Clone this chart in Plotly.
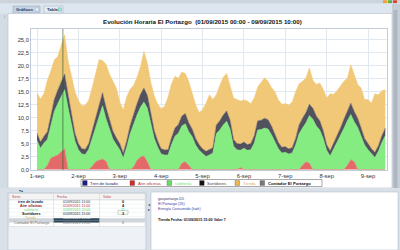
import plotly.graph_objects as go
import pandas as pd

W, H = 400, 250

# ---------------- data (2-hour steps) ----------------
times = pd.date_range("2015-09-01 00:00", "2015-09-09 10:00", freq="2h")

aire_oficinas = [0, 0, 0, 0.8, 2.2, 2.5, 2.8, 3.4, 4.0, 0,
                 0, 0, 0, 0, 0, 0, 0.6, 1.5, 1.8, 2.0,
                 1.6, 0, 0, 0, 0, 0, 0, 0, 0.5, 1.8,
                 2.4, 2.6, 1.5, 0, 0, 0, 0, 0, 0, 0,
                 0, 0, 1.2, 1.5, 0.8, 0, 0, 0, 0, 0,
                 0, 0, 0, 0, 0, 0, 0, 0, 0, 0.4,
                 0, 0, 0, 0, 0, 0, 0, 0, 0, 0,
                 0, 0, 0, 0, 0, 0, 0, 0.8, 1.5, 1.2,
                 0, 0, 0, 0, 0, 0, 0, 0, 0, 0,
                 0.8, 1.9, 1.5, 0, 0, 0, 0, 0, 0, 0,
                 0, 0]

cafeteria = [5.6, 4.1, 5.1, 5.0, 6.3, 8.7, 9.9, 10.8, 11.4, 11.9,
             8.5, 5.5, 3.8, 3.0, 2.9, 3.9, 5.4, 6.6, 8.0, 10.3,
             8.2, 7.7, 5.9, 4.8, 3.8, 2.2, 4.3, 6.9, 8.3, 8.7,
             9.6, 10.4, 10.3, 9.0, 6.0, 4.3, 3.0, 2.8, 2.8, 4.8,
             6.4, 7.0, 7.2, 7.3, 6.5, 6.3, 4.7, 3.7, 3.0, 2.5,
             2.8, 3.2, 6.9, 7.6, 8.6, 9.3, 7.7, 4.5, 3.8, 3.3,
             4.1, 3.7, 3.8, 5.1, 7.6, 7.7, 8.0, 7.8, 6.7, 5.3,
             4.0, 3.2, 3.3, 3.0, 3.2, 4.7, 6.9, 7.2, 7.5, 9.2,
             9.7, 8.4, 7.6, 6.0, 3.7, 2.6, 3.9, 5.1, 6.4, 7.9,
             8.6, 8.7, 7.7, 8.1, 6.4, 4.7, 3.8, 3.0, 2.3, 3.5,
             5.2, 6.5]

surtidores = [1.4, 1.2, 1.3, 1.5, 1.8, 2.3, 2.6, 2.8, 3.0, 2.6,
              2.0, 1.5, 1.2, 1.0, 1.0, 1.1, 1.5, 1.9, 2.2, 2.5,
              2.2, 1.8, 1.5, 1.3, 1.2, 1.0, 1.2, 1.6, 1.9, 2.2,
              2.5, 2.7, 2.5, 2.0, 1.5, 1.2, 1.0, 1.0, 1.0, 1.3,
              1.6, 1.7, 1.9, 2.0, 1.7, 1.5, 1.3, 1.1, 1.0, 1.0,
              1.0, 1.0, 1.7, 1.8, 1.9, 2.0, 1.8, 1.3, 1.2, 1.2,
              1.2, 1.1, 1.2, 1.4, 1.8, 1.8, 1.9, 1.8, 1.7, 1.4,
              1.2, 1.1, 1.1, 1.0, 1.0, 1.3, 1.7, 1.9, 2.0, 2.2,
              2.1, 1.9, 1.8, 1.5, 1.1, 1.0, 1.1, 1.3, 1.6, 1.8,
              2.0, 2.2, 2.0, 1.8, 1.6, 1.3, 1.2, 1.0, 1.0, 1.1,
              1.3, 1.5]

tienda = [7.8, 8.3, 8.2, 9.9, 8.7, 7.6, 6.5, 6.8, 7.6, 6.5,
          7.3, 8.0, 8.3, 8.3, 8.5, 8.4, 8.3, 8.6, 9.2, 6.2,
          8.3, 8.9, 9.6, 9.6, 8.0, 8.3, 8.5, 7.0, 5.5, 5.1,
          5.3, 7.1, 6.2, 5.8, 6.7, 7.1, 7.7, 8.4, 10.2, 10.4,
          10.0, 8.9, 8.5, 7.7, 8.0, 7.0, 6.5, 6.2, 7.5, 9.3,
          10.6, 9.3, 5.8, 6.8, 7.3, 7.2, 6.5, 8.0, 8.5, 8.3,
          8.1, 8.4, 7.7, 7.3, 6.5, 7.2, 7.8, 7.4, 7.4, 8.3,
          8.2, 8.3, 8.3, 8.4, 8.8, 9.0, 7.9, 7.1, 6.7, 7.0,
          5.4, 6.1, 7.3, 8.0, 9.0, 11.0, 9.5, 8.8, 8.2, 7.3,
          6.2, 7.4, 7.1, 6.5, 7.7, 7.5, 8.5, 8.8, 11.3, 9.8,
          8.7, 7.4]

day_ticks = ["2015-09-01", "2015-09-02", "2015-09-03", "2015-09-04", "2015-09-05",
             "2015-09-06", "2015-09-07", "2015-09-08", "2015-09-09"]
day_labels = ["1-sep", "2-sep", "3-sep", "4-sep", "5-sep", "6-sep", "7-sep", "8-sep", "9-sep"]
y_ticks = [0, 2.5, 5, 7.5, 10, 12.5, 15, 17.5, 20, 22.5, 25]
y_labels = ["0,0", "2,5", "5,0", "7,5", "10,0", "12,5", "15,0", "17,5", "20,0", "22,5", "25,0"]

legend_names = ["Tren de lavado", "Aire oficinas", "cafetería", "Surtidores", "Tienda", "Contador El Portazgo"]

table_series = ["tren de lavado", "Aire oficinas", "cafetería", "Surtidores", "Tienda", "Contador El Portazgo"]
table_dates = ["01/09/2015 15:00", "01/09/2015 15:00", "01/09/2015 15:00",
               "01/09/2015 15:00", "01/09/2015 15:00", "01/09/2015 15:00"]
table_values = ["0", "4", "11", "3", "", "0"]

cursor_time = "2015-09-01 15:00"
title_text = "Evolución Horaria El Portazgo\u00a0\u00a0(01/09/2015 00:00 - 09/09/2015 10:00)"
info_lines = ["gasportazgo D5", "El Portazgo (26)", "Energía Consumida (kwh)"]
info_value = "Tienda Fecha: 01/09/2015 15:00 Valor 7"

# ---------------- styles ----------------
FONT = "Liberation Sans"
series = [("Aire oficinas", aire_oficinas, "#e46a6a"),
          ("cafetería", cafeteria, "#84ec80"),
          ("Surtidores", surtidores, "#52525e"),
          ("Tienda", tienda, "#f0c878")]
legend_swatch = ["#1c1c8a", "#d62a2a", "#5fe35f", "#111111", "#f2b84a", "#7a7a7a"]
legend_textcol = ["#1c1c6e", "#b03030", "#66dd66", "#444444", "#e0b060", "#111111"]

fig = go.Figure()
for name, vals, col in series:
    fig.add_trace(go.Scatter(x=times, y=vals, name=name, stackgroup="one", mode="lines",
                             line=dict(width=0.5, color=col), fillcolor=col,
                             hoverinfo="skip", showlegend=False))


def X(px):
    return px / W


def Y(py):
    return 1 - py / H


shapes = []
annots = []


def rect(x0, y0, x1, y1, fill, line=None, lw=0.6, layer="below"):
    shapes.append(dict(type="rect", xref="paper", yref="paper", x0=X(x0), x1=X(x1),
                       y0=Y(y1), y1=Y(y0), fillcolor=fill, layer=layer,
                       line=dict(width=lw if line else 0, color=line or fill)))


def hline(x0, x1, y, col, lw=0.5):
    shapes.append(dict(type="line", xref="paper", yref="paper", x0=X(x0), x1=X(x1),
                       y0=Y(y), y1=Y(y), line=dict(width=lw, color=col), layer="below"))


def vline(x, y0, y1, col, lw=0.5):
    shapes.append(dict(type="line", xref="paper", yref="paper", x0=X(x), x1=X(x),
                       y0=Y(y0), y1=Y(y1), line=dict(width=lw, color=col), layer="below"))


def txt(px, py, text, size, color, anchor="left", bold=False, bg=None):
    annots.append(dict(x=X(px), y=Y(py), xref="paper", yref="paper", showarrow=False,
                       text=f"<b>{text}</b>" if bold else text, xanchor=anchor, yanchor="middle",
                       font=dict(family=FONT, size=size, color=color), borderpad=0,
                       bgcolor=bg))


# window chrome
rect(0, 0, 400, 3.5, "#cdd3da")
rect(383, 0.3, 387, 3.2, "#f0a030")
rect(388, 0.3, 392, 3.2, "#5fb040")
rect(393, 0.3, 397, 3.2, "#e04030")
rect(0, 3.5, 400, 13.5, "#dde5ee")
rect(13, 6, 40, 13, "#c5d3e2", "#8ea4bc", 0.5)
txt(15, 9.6, "Gráficos", 4.2, "#1e3050", bold=True)
rect(35.5, 7.8, 38.5, 11.2, "#e8eef4", "#9aa8b8", 0.3)
rect(44, 6, 63, 13, "#e6ecf3", "#9fb0c2", 0.5)
txt(46, 9.6, "Tabla", 4.2, "#1e3050", bold=True)
rect(58, 7.8, 61.5, 11.2, "#9fe0d8", "#3a9a90", 0.3)
rect(0, 13.5, 8, 190, "#d3dbe4")
txt(4, 16, "⁞", 4, "#445", anchor="center")
# chart panel
rect(8, 13.5, 392, 188, "white", "#b4c0cc", 0.6)
rect(392, 4, 400, 190, "#c6ced7")
rect(393.5, 10, 397.5, 188, "#aeb7c1")
# divider
rect(0, 188, 400, 193, "#d9e0e8")
txt(21, 190.6, "▾▴", 3.5, "#445566", anchor="center")
# table panel
rect(8, 193, 146, 250, "#eef1f5", "#a8b4c0", 0.5)
rect(9, 193.5, 145, 200, "#f4f4f4", "#c0c8d0", 0.4)
rect(9, 200, 145, 226.5, "white", "#c0c8d0", 0.4)
rect(9, 218.3, 145, 222.4, "#cfd5db")
rect(53.5, 218.3, 99.5, 222.4, "#2c4658")
for i in range(1, 6):
    hline(9, 145, 200 + 4.08 * i, "#d4d9df", 0.3)
vline(53.5, 193.5, 226.5, "#c0c8d0", 0.4)
vline(99.5, 193.5, 226.5, "#c0c8d0", 0.4)
rect(118, 210.4, 128, 214.3, "rgba(0,0,0,0)", "#70a070", 0.4)
txt(11, 196.8, "Serie", 3.6, "#c04848")
txt(56, 196.8, "Fecha", 3.6, "#c04848")
txt(102, 196.8, "Valor", 3.6, "#c04848")
row_name_col = ["#1a1a5e", "#8b1a1a", "#5fd35f", "#111111", "#e0b050", "#707070"]
row_date_col = ["#333333", "#c03030", "#60d060", "#111111", "#ffffff", "#808080"]
row_bold = [True, True, False, True, False, False]
for i, (s, d, v) in enumerate(zip(table_series, table_dates, table_values)):
    yc = 202.1 + 4.08 * i
    txt(31, yc, s, 3.7, row_name_col[i], anchor="center", bold=row_bold[i])
    txt(76.5, yc, d, 3.5, row_date_col[i], anchor="center")
    txt(123, yc, v, 3.7, row_name_col[i] if i in (2, 5) else "#111111", anchor="center",
        bold=row_bold[i])
txt(148.5, 204.5, "◂", 3.5, "#334466", anchor="center")
txt(148.5, 209.5, "▸", 3.5, "#334466", anchor="center")
# info panel
rect(151, 192, 398, 250, "white", "#a8b4c0", 0.5)
for i, line in enumerate(info_lines):
    txt(157, 198.5 + 5.4 * i, line, 3.7, "#333366" if i == 0 else "#3a3aa0")
txt(157, 220, info_value, 3.7, "#111111", bold=True)

# title
txt(203, 22, title_text, 6.2, "#111111", anchor="center", bold=True)

# custom legend
rect(81, 179.5, 322, 186.5, "white", "#555555", 0.5)
sw_x = [82.6, 130, 167, 199.6, 235, 260]
tx_x = [89, 136.5, 173.5, 205.5, 241.5, 266.5]
for i, nm in enumerate(legend_names):
    rect(sw_x[i], 180.6, sw_x[i] + 4.6, 185.4, legend_swatch[i], "#333333", 0.3)
    txt(tx_x[i], 183, nm, 4.2, legend_textcol[i], bold=(i == 5))

# cursor line
shapes.append(dict(type="line", xref="x", yref="paper", x0=cursor_time, x1=cursor_time,
                   y0=Y(170), y1=Y(29), line=dict(width=0.8, color="rgba(40,80,40,0.75)"),
                   layer="above"))

fig.update_layout(
    width=W, height=H, margin=dict(l=0, r=0, t=0, b=0),
    paper_bgcolor="#d9e0e8", plot_bgcolor="white", showlegend=False,
    template="none", shapes=shapes, annotations=annots,
    xaxis=dict(type="date", domain=[X(31), X(387)],
               range=["2015-08-31 20:30", "2015-09-09 11:00"],
               tickvals=day_ticks, ticktext=day_labels, ticks="",
               showgrid=True, gridcolor="#e2e8ef", gridwidth=0.8,
               showline=True, mirror=True, linecolor="#c3ccd6", linewidth=0.8,
               zeroline=False, automargin=False,
               tickfont=dict(family=FONT, size=5.8, color="#333333")),
    yaxis=dict(domain=[Y(170), Y(29)], range=[-0.1, 27.1],
               tickvals=y_ticks, ticktext=y_labels, ticks="",
               showgrid=True, gridcolor="#e2e8ef", gridwidth=0.8,
               showline=True, mirror=True, linecolor="#c3ccd6", linewidth=0.8,
               zeroline=False, automargin=False,
               tickfont=dict(family=FONT, size=5.8, color="#333333")),
)

fig.write_html("out.html")
